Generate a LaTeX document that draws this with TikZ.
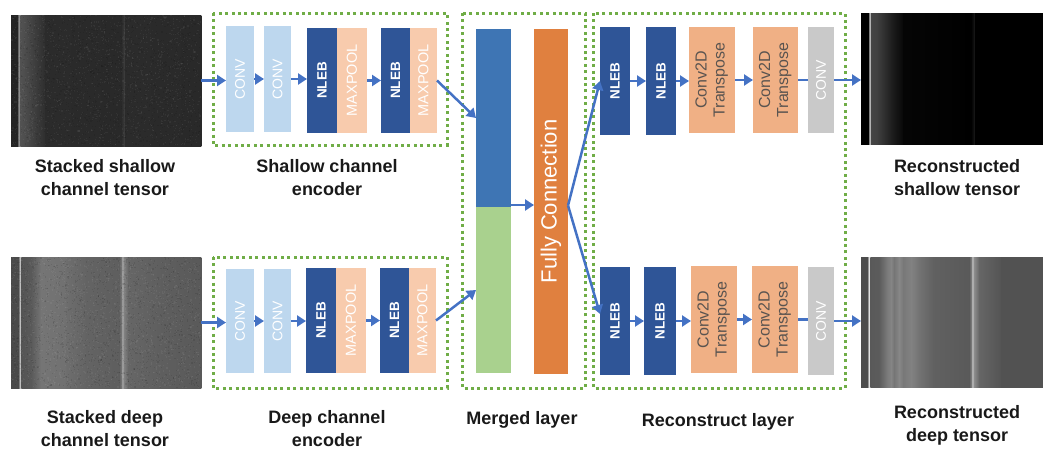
\documentclass[tikz,border=0pt]{standalone}
\usepackage{fontspec}
\setmainfont{Liberation Sans}
\usetikzlibrary{arrows.meta,calc}

\definecolor{convL}{HTML}{BDD7EE}
\definecolor{nlebC}{HTML}{2F5597}
\definecolor{maxpC}{HTML}{F8CBAD}
\definecolor{tconvC}{HTML}{F0B085}
\definecolor{tconvT}{HTML}{5A5450}
\definecolor{convG}{HTML}{C9C9C9}
\definecolor{mergeB}{HTML}{3E75B4}
\definecolor{mergeG}{HTML}{A9D18E}
\definecolor{fcC}{HTML}{E0803F}
\definecolor{arrC}{HTML}{4472C4}
\definecolor{grpC}{HTML}{70AD47}

% vertical grey bands of a tensor image: x0, top, bottom, {a/b/left%/right%,...}
\newcommand\tensorstrips[4]{%
  \foreach \a/\b/\p/\q in {#4}{%
    \fill[left color=white!\p!black, right color=white!\q!black]
      ({#1+\a},#2) rectangle ({#1+\b+0.3},#3);}}
% fine grain: x0, top, width, height, count
\newcommand\tensornoise[5]{%
  \foreach \k in {1,...,#5}{%
    \fill[white,opacity=.05] ({#1+(#3-1.2)*rnd},{#2+(#4-1.2)*rnd}) rectangle ++(1.2,1.2);
    \fill[black,opacity=.09] ({#1+(#3-1.2)*rnd},{#2+(#4-1.2)*rnd}) rectangle ++(1.2,1.2);}}

\begin{document}
\begin{tikzpicture}[x=1pt,y=-1pt,
  blk/.style={rectangle, inner sep=0pt, outer sep=0pt, anchor=north west, text=white},
  convbox/.style={blk, fill=convL, font=\fontsize{14}{16}\selectfont},
  nlebbox/.style={blk, fill=nlebC, font=\bfseries\fontsize{13.5}{16}\selectfont},
  poolbox/.style={blk, fill=maxpC, font=\fontsize{14.5}{16}\selectfont},
  tconvbox/.style={blk, fill=tconvC, text=tconvT, font=\fontsize{16}{18}\selectfont},
  outconv/.style={blk, fill=convG, font=\fontsize{14}{16}\selectfont},
  imgframe/.style={blk, draw=none},
  arr/.style={draw=arrC, line width=2.5pt, -{Triangle[length=9pt,width=11pt]}},
  link/.style={draw=arrC, line width=2.5pt},
  grp/.style={draw=grpC, line width=3pt, dash pattern=on 3pt off 3.4pt},
  lbl/.style={align=center, font=\bfseries\fontsize{18}{23}\selectfont, text=black!90},
]
\useasboundingbox (0,0) rectangle (1043,450);
\pgfmathsetseed{11}

% ---------- tensor images ----------
\tensorstrips{11}{15}{146}{0/7/14/14, 7/8/40/55, 8/9.5/55/50, 9.5/14/32/30,
  14/34/30/18, 34/110/17/16, 110/113/16/23, 113/114/23/17, 114/190/17/16}
\tensornoise{11}{15}{190}{131}{1500}
\node[imgframe, minimum width=190pt, minimum height=131pt] (inS) at (11,15) {};

\tensorstrips{11}{257}{388}{0/8/29/29, 8/9/50/75, 9/10.5/75/40, 10.5/20/33/35,
  20/30/35/46, 30/55/46/44, 55/75/43/39, 75/108/39/37, 108/111/37/50,
  111/113/60/60, 113/117/50/40, 117/150/40/37, 150/190/37/35}
\tensornoise{11}{257}{190}{131}{1500}
\node[imgframe, minimum width=190pt, minimum height=131pt] (inD) at (11,257) {};

\tensorstrips{861}{13}{144}{0/8/0/0, 8/9/50/70, 9/10/70/40, 10/16/27/25,
  16/30/25/12, 30/42/12/3, 42/110/2/0, 110/113/0/8, 113/114/8/1, 114/182/0/0}
\node[imgframe, minimum width=182pt, minimum height=131pt] (outS) at (861,13) {};

\tensorstrips{861}{257}{387}{0/7/30/30, 7/8/60/88, 8/9.5/88/50, 9.5/18/35/36,
  18/26/36/48, 26/30/48/52, 30/33/52/46, 33/38/46/53, 38/42/53/47, 42/50/47/51,
  50/58/51/45, 58/72/45/38, 72/108/38/35, 108/111/35/55, 111/113/68/68,
  113/118/55/40, 118/140/40/33, 140/182/32/32}
\node[imgframe, minimum width=182pt, minimum height=130pt] (outD) at (861,257) {};

% ---------- group frames ----------
\draw[grp] (213,13) rectangle (447,145);
\draw[grp] (213,257) rectangle (447,388);
\draw[grp] (462,13) rectangle (585,388);
\draw[grp] (593,13) rectangle (845,388);

% ---------- shallow channel encoder ----------
\node[convbox, minimum width=28pt, minimum height=106pt] (sc1) at (226,26) {\rotatebox{90}{CONV}};
\node[convbox, minimum width=27pt, minimum height=106pt] (sc2) at (264,26) {\rotatebox{90}{CONV}};
\node[nlebbox, minimum width=30pt, minimum height=105pt] (sn1) at (307,28) {\rotatebox{90}{NLEB}};
\node[poolbox, minimum width=30pt, minimum height=105pt] (sp1) at (337,28) {\rotatebox{90}{MAXPOOL}};
\node[nlebbox, minimum width=29pt, minimum height=105pt] (sn2) at (381,28) {\rotatebox{90}{NLEB}};
\node[poolbox, minimum width=27pt, minimum height=105pt] (sp2) at (410,28) {\rotatebox{90}{MAXPOOL}};

% ---------- deep channel encoder ----------
\node[convbox, minimum width=28pt, minimum height=104pt] (dc1) at (226,269) {\rotatebox{90}{CONV}};
\node[convbox, minimum width=27pt, minimum height=104pt] (dc2) at (264,269) {\rotatebox{90}{CONV}};
\node[nlebbox, minimum width=30pt, minimum height=105pt] (dn1) at (306,268) {\rotatebox{90}{NLEB}};
\node[poolbox, minimum width=30pt, minimum height=105pt] (dp1) at (336,268) {\rotatebox{90}{MAXPOOL}};
\node[nlebbox, minimum width=29pt, minimum height=105pt] (dn2) at (380,268) {\rotatebox{90}{NLEB}};
\node[poolbox, minimum width=27pt, minimum height=105pt] (dp2) at (409,268) {\rotatebox{90}{MAXPOOL}};

% ---------- merged layer ----------
\node[blk, fill=mergeB, minimum width=35pt, minimum height=178pt] (mb) at (476,29) {};
\node[blk, fill=mergeG, minimum width=35pt, minimum height=166pt] (mg) at (476,207) {};
\node[blk, fill=fcC, minimum width=34pt, minimum height=345pt,
      font=\fontsize{22}{24}\selectfont] (fc) at (534,29) {\rotatebox{90}{Fully Connection}};

% ---------- reconstruct layer (shallow) ----------
\node[nlebbox, minimum width=30pt, minimum height=108pt] (rs1) at (600,27) {\rotatebox{90}{NLEB}};
\node[nlebbox, minimum width=30pt, minimum height=108pt] (rs2) at (646,27) {\rotatebox{90}{NLEB}};
\node[tconvbox, minimum width=46pt, minimum height=106pt] (rs3) at (689,27)
  {\rotatebox{90}{\begin{tabular}{@{}c@{}}Conv2D\\Transpose\end{tabular}}};
\node[tconvbox, minimum width=45pt, minimum height=106pt] (rs4) at (753,27)
  {\rotatebox{90}{\begin{tabular}{@{}c@{}}Conv2D\\Transpose\end{tabular}}};
\node[outconv, minimum width=26pt, minimum height=106pt] (rs5) at (808,27) {\rotatebox{90}{CONV}};

% ---------- reconstruct layer (deep) ----------
\node[nlebbox, minimum width=30pt, minimum height=108pt] (rd1) at (600,267) {\rotatebox{90}{NLEB}};
\node[nlebbox, minimum width=32pt, minimum height=108pt] (rd2) at (644,267) {\rotatebox{90}{NLEB}};
\node[tconvbox, minimum width=46pt, minimum height=107pt] (rd3) at (691,266)
  {\rotatebox{90}{\begin{tabular}{@{}c@{}}Conv2D\\Transpose\end{tabular}}};
\node[tconvbox, minimum width=46pt, minimum height=107pt] (rd4) at (752,266)
  {\rotatebox{90}{\begin{tabular}{@{}c@{}}Conv2D\\Transpose\end{tabular}}};
\node[outconv, minimum width=26pt, minimum height=108pt] (rd5) at (808,267) {\rotatebox{90}{CONV}};

% ---------- connectors ----------
\draw[arr] (inS.east) -- (inS.east -| sc1.west);
\draw[arr] (sc1.east) -- (sc1.east -| sc2.west);
\draw[arr] (sc2.east) -- (sc2.east -| sn1.west);
\draw[arr] (sp1.east) -- (sp1.east -| sn2.west);
\draw[arr] (sp2.east) -- (mb.west);

\draw[arr] (inD.east) -- (inD.east -| dc1.west);
\draw[arr] (dc1.east) -- (dc1.east -| dc2.west);
\draw[arr] (dc2.east) -- (dc2.east -| dn1.west);
\draw[arr] (dp1.east) -- (dp1.east -| dn2.west);
\draw[arr] (dp2.east) -- (mg.west);

\coordinate (mj) at ($(mg.north east)+(0,-2)$);
\draw[arr] (mj) -- (mj -| fc.west);
\coordinate (fcout) at ($(fc.east)+(0,4)$);
\draw[arr] (fcout) -- (rs1.west);
\draw[arr] (fcout) -- ($(rd1.west)+(0,-7)$);

\draw[arr] (rs1.east) -- (rs1.east -| rs2.west);
\draw[arr] (rs2.east) -- (rs2.east -| rs3.west);
\draw[arr] (rs3.east) -- (rs3.east -| rs4.west);
\draw[link] (rs4.east) -- (rs4.east -| rs5.west);
\draw[arr] (rs5.east) -- (rs5.east -| outS.west);

\draw[arr] (rd1.east) -- (rd1.east -| rd2.west);
\draw[arr] (rd2.east) -- (rd2.east -| rd3.west);
\draw[arr] (rd3.east) -- (rd3.east -| rd4.west);
\draw[link] (rd4.east) -- (rd4.east -| rd5.west);
\draw[arr] (rd5.east) -- (rd5.east -| outD.west);

% ---------- captions ----------
\node[lbl] (tInS) at (105,178) {Stacked shallow\\channel tensor};
\node[lbl] (tEncS) at (327,178) {Shallow channel\\encoder};
\node[lbl] (tOutS) at (957,178) {Reconstructed\\shallow tensor};
\node[lbl] (tInD) at (105,429) {Stacked deep\\channel tensor};
\node[lbl] (tEncD) at (327,429) {Deep channel\\encoder};
\node[lbl] (tMrg) at (522,420) {Merged layer};
\node[lbl] (tRec) at (718,422) {Reconstruct layer};
\node[lbl] (tOutD) at (957,425) {Reconstructed\\deep tensor};
\end{tikzpicture}
\end{document}
